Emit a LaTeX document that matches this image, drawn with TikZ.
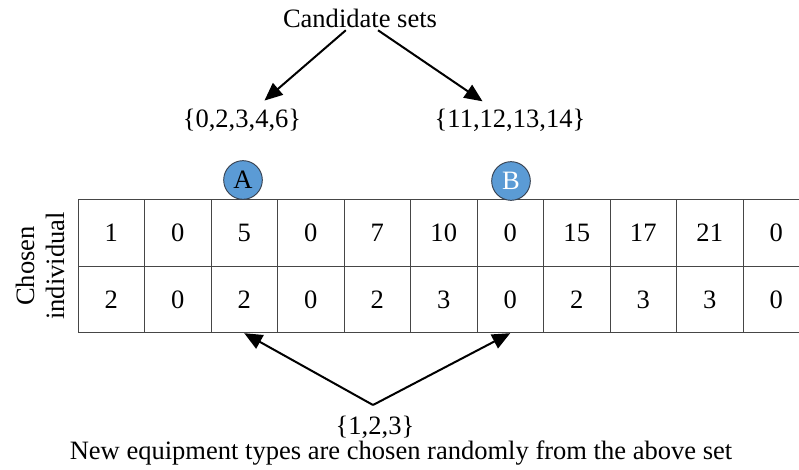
\documentclass[tikz,border=0pt]{standalone}
\usepackage{fontspec}
\setmainfont{Liberation Serif}
\usetikzlibrary{arrows.meta}
\definecolor{ink}{RGB}{0,0,0}
\definecolor{gridline}{RGB}{70,70,70}
\definecolor{marker}{RGB}{91,155,213}
\definecolor{rim}{RGB}{55,65,80}
\newcommand{\bigtext}{\fontsize{19.9}{22.5}\selectfont}
\tikzset{
  cell/.style={draw=gridline, line width=0.6pt, minimum width=49.9pt,
              minimum height=49.9pt, inner sep=0pt, font=\bigtext},
  txt/.style={font=\bigtext, inner sep=2pt, align=center},
  marker/.style={circle, draw=rim, line width=0.7pt, fill=marker,
              minimum size=29pt, inner sep=0pt, font=\bigtext},
  flow/.style={-{Triangle[length=13.5pt,width=11.5pt]}, ink, line width=1.5pt},
}

\begin{document}
\begin{tikzpicture}[x=0.75pt, y=-0.75pt]
  \useasboundingbox (0,0) rectangle (799,470);
  % table of the chosen individual
  \foreach \v [count=\i] in {1,0,5,0,7,10,0,15,17,21,0}
    \node[cell] (t\i) at ({78+66.5*(\i-0.5)},233) {\v};
  \foreach \v [count=\i] in {2,0,2,0,2,3,0,2,3,3,0}
    \node[cell] (b\i) at ({78+66.5*(\i-0.5)},299.5) {\v};
  \node[txt, rotate=90] (chosen) at (40,266) {Chosen\\individual};
  % crossover points
  \node[marker] (markA) at (243,180) {A};
  \node[marker, text=white] (markB) at (511,181) {B};
  % candidate sets
  \node[txt] (cand) at (360,18) {Candidate sets};
  \node[txt] (setA) at (242,120) {\{0,2,3,4,6\}};
  \node[txt] (setB) at (510,120) {\{11,12,13,14\}};
  \draw[flow, shorten >=6pt] (cand) -- (setA);
  \draw[flow, shorten >=6pt] (cand) -- (setB);
  % new equipment types
  \node[txt] (types) at (375,427) {\{1,2,3\}};
  \node[txt] (note) at (401,453) {New equipment types are chosen randomly from the above set};
  \coordinate (apex) at (373,405);
  \draw[flow] (apex) -- (b3.south);
  \draw[flow] (apex) -- (b7.south);
\end{tikzpicture}
\end{document}
